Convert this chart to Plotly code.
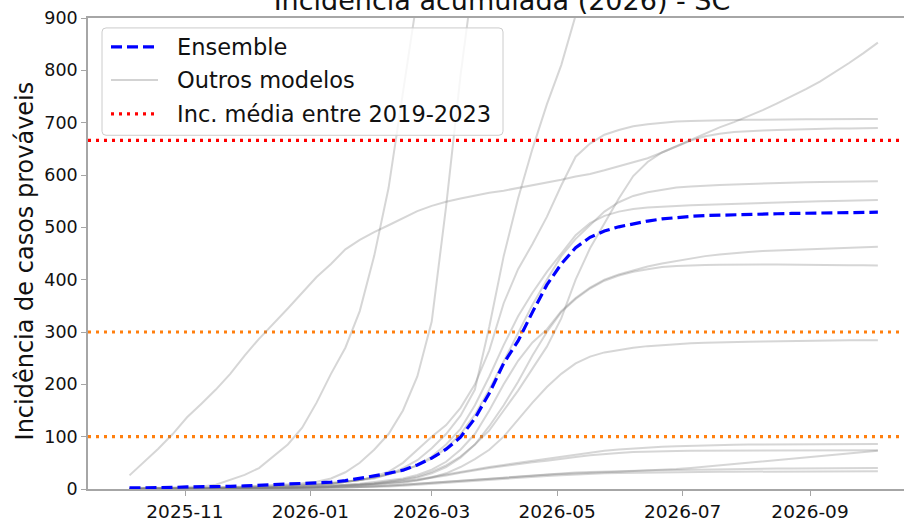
import pandas as pd
import plotly.graph_objects as go

# Epidemiological weeks (Sunday start), 2025-10-05 .. 2026-10-04
semanas = pd.date_range("2025-10-05", periods=53, freq="7D")

# Ensemble forecast of cumulative probable-case incidence
ensemble = [2, 2, 3, 3, 4, 4, 5, 5, 6, 7, 8, 9, 10,
            11, 13, 16, 20, 25, 30, 36, 46, 59, 76, 99, 135, 183,
            240, 283, 338, 390, 430, 461, 481, 493, 501, 507, 512, 516, 519,
            521, 522.5, 523.5, 524.5, 525, 525.5, 526, 526.5, 527, 527.5, 528, 528, 528.5, 529]

# Individual models
modelo_a = [26, 52, 77, 105, 137, 163, 190, 220, 255, 287, 315, 345, 375,
            405, 430, 458, 476, 491, 504, 518, 531, 541, 549, 555, 561, 566,
            570, 575, 580, 585, 591, 597, 602, 609, 617, 624, 632, 643, 655,
            666, 674, 679, 682, 684, 685, 686, 687, 688, 688, 689, 689, 690, 690]
modelo_b = [2, 2, 3, 3, 4, 5, 8, 18, 27, 40, 62, 85, 117,
            165, 220, 270, 340, 445, 575, 760, 940, 1080, 1180, 1250, 1300, 1340,
            1370, 1390, 1400, 1410, 1415, 1420, 1420, 1420, 1420, 1420, 1420, 1420, 1420,
            1420, 1420, 1420, 1420, 1420, 1420, 1420, 1420, 1420, 1420, 1420, 1420, 1420, 1420]
modelo_c = [1, 1, 2, 2, 2, 3, 3, 4, 5, 6, 7, 9, 11,
            14, 20, 32, 50, 75, 105, 150, 215, 320, 540, 790, 1000, 1150,
            1250, 1310, 1350, 1380, 1400, 1410, 1415, 1420, 1420, 1420, 1420, 1420, 1420,
            1420, 1420, 1420, 1420, 1420, 1420, 1420, 1420, 1420, 1420, 1420, 1420, 1420, 1420]
modelo_d = [1, 1, 1, 2, 2, 2, 3, 3, 4, 5, 6, 7, 8,
            10, 12, 14, 17, 20, 28, 40, 55, 78, 105, 140, 190, 310,
            445, 555, 650, 735, 810, 905, 1000, 1080, 1140, 1180, 1210, 1230, 1240,
            1250, 1255, 1260, 1260, 1260, 1260, 1260, 1260, 1260, 1260, 1260, 1260, 1260, 1260]
modelo_e = [0, 0, 1, 1, 1, 1, 2, 2, 3, 3, 4, 5, 6,
            8, 10, 13, 17, 24, 33, 50, 75, 100, 122, 155, 200, 265,
            355, 420, 468, 520, 580, 635, 660, 677, 686, 693, 697, 700, 702,
            703, 704, 704.5, 705, 705.5, 706, 706, 706, 706.5, 706.5, 707, 707, 707, 707]
modelo_f = [0, 0, 0, 1, 1, 1, 1, 2, 2, 2, 3, 3, 4,
            5, 6, 7, 9, 11, 14, 18, 24, 33, 45, 62, 85, 112,
            150, 188, 230, 272, 326, 400, 460, 508, 555, 598, 625, 643, 655,
            667, 680, 691, 701, 712, 724, 737, 750, 764, 779, 796, 814, 833, 853]
modelo_g = [0, 0, 1, 1, 1, 1, 2, 2, 3, 3, 4, 5, 6,
            8, 10, 13, 17, 22, 28, 36, 45, 58, 78, 105, 142, 190,
            245, 300, 352, 400, 445, 478, 505, 530, 548, 560, 567, 572, 576,
            578, 580, 581, 582, 583, 584, 585, 585.5, 586, 586.5, 587, 587, 587.5, 588]
modelo_h = [0, 0, 1, 1, 1, 1, 2, 2, 3, 3, 4, 5, 6,
            8, 10, 13, 17, 22, 28, 35, 45, 62, 85, 115, 160, 215,
            275, 330, 375, 415, 450, 485, 508, 522, 530, 535, 538, 540, 541,
            542, 543, 543.5, 544, 545, 546, 547, 548, 549, 550, 550.5, 551, 551.5, 552]
modelo_i = [0, 0, 0, 1, 1, 1, 1, 2, 2, 2, 3, 3, 4,
            5, 6, 8, 10, 13, 16, 20, 27, 37, 52, 75, 105, 150,
            200, 245, 280, 305, 340, 365, 385, 400, 410, 418, 425, 431, 436,
            441, 445, 448, 451, 453, 455, 456, 457.5, 459, 460, 461, 462, 462.5, 463]
modelo_j = [0, 0, 0, 0, 1, 1, 1, 1, 2, 2, 2, 3, 3,
            4, 5, 6, 8, 10, 13, 17, 22, 30, 42, 60, 85, 120,
            160, 205, 255, 300, 338, 363, 383, 398, 408, 415, 420, 424, 426,
            427.5, 428, 428.5, 429, 429, 429, 429, 428.5, 428.5, 428, 428, 427.5, 427.5, 427]
modelo_k = [0, 0, 0, 0, 1, 1, 1, 1, 1, 2, 2, 2, 3,
            3, 4, 5, 6, 8, 10, 12, 16, 22, 30, 42, 57, 75,
            100, 133, 165, 195, 220, 240, 253, 261, 266, 270, 273, 275, 277,
            278.5, 279.5, 280.5, 281, 281.5, 282, 282.5, 283, 283, 283.5, 283.5, 284, 284, 284]
modelo_l = [0, 0, 0, 0, 1, 1, 1, 1, 1, 2, 2, 2, 3,
            4, 5, 6, 8, 10, 12, 15, 18, 23, 28, 33, 38, 42,
            46, 50, 54, 58, 62, 66, 70, 73, 75.5, 77.5, 79, 80.5, 81.5,
            82.5, 83.5, 84, 84.5, 85, 85, 85.5, 85.5, 86, 86, 86, 86, 86, 86]
modelo_m = [0, 0, 0, 0, 0, 1, 1, 1, 1, 1, 2, 2, 3,
            3, 4, 5, 7, 9, 11, 14, 17, 21, 26, 31, 36, 40,
            44, 48, 51, 54, 57, 61, 64.5, 67, 69, 70.5, 71.5, 72, 72.5,
            73, 73, 73, 73, 73.5, 73.5, 73.5, 73.5, 73.5, 74, 74, 74, 74, 74]
modelo_n = [0, 0, 0, 0, 0, 0, 1, 1, 1, 1, 1, 2, 2,
            2, 3, 3, 4, 5, 6, 8, 10, 12, 14, 16, 18, 20,
            22, 24, 25.5, 27, 28.5, 30, 31, 32, 33, 34, 35, 36.5, 38,
            40, 42.5, 45, 47.5, 50, 52.5, 55, 57.5, 60, 62.5, 65, 67.5, 70, 73]
modelo_o = [0, 0, 0, 0, 0, 1, 1, 1, 1, 1, 2, 2, 2,
            3, 3, 4, 4, 5, 6, 8, 10, 12, 14, 16, 18, 20,
            22.5, 24.5, 26.5, 28.5, 30, 31.5, 32.5, 33.5, 34.5, 35, 35.5, 36, 36.5,
            37, 37.5, 38, 38, 38.5, 38.5, 39, 39, 39, 39.5, 39.5, 40, 40, 40]
modelo_p = [0, 0, 0, 0, 0, 0, 1, 1, 1, 1, 1, 2, 2,
            2, 3, 3, 4, 4, 5, 6, 8, 9.5, 11, 13, 15, 17,
            19, 21, 23, 25, 26.5, 28, 29, 30, 30.5, 31, 31.5, 32, 32,
            32.5, 32.5, 33, 33, 33, 33, 33.5, 33.5, 33.5, 34, 34, 34, 34, 34]

outros_modelos = [modelo_a, modelo_b, modelo_c, modelo_d, modelo_e, modelo_f,
                  modelo_g, modelo_h, modelo_i, modelo_j, modelo_k, modelo_l,
                  modelo_m, modelo_n, modelo_o, modelo_p]

# Reference levels
inc_media_2019_2023 = 666
limiares = [100, 300]

# Axis ticks
meses_ticks = ["2025-11-01", "2026-01-01", "2026-03-01", "2026-05-01", "2026-07-01", "2026-09-01"]
meses_rotulos = ["2025-11", "2026-01", "2026-03", "2026-05", "2026-07", "2026-09"]
y_ticks = [0, 100, 200, 300, 400, 500, 600, 700, 800, 900]

FONT = "DejaVu Sans"
W, H = 904, 522
L, R, T, B = 88, 0, 18, 30
PW, PH = W - L - R, H - T - B
SPINE = "#a6a6a6"
GRAY_LINE = "rgba(128,128,128,0.32)"


def px(xp):
    return (xp - L) / PW


def py(yp):
    return (H - B - yp) / PH


fig = go.Figure()

for serie in outros_modelos:
    fig.add_trace(go.Scatter(x=semanas, y=serie, mode="lines",
                             line=dict(color=GRAY_LINE, width=2),
                             showlegend=False, hoverinfo="skip"))

fig.add_trace(go.Scatter(x=semanas, y=ensemble, mode="lines",
                         line=dict(color="#0000ff", width=3.2, dash="11px,5px"),
                         showlegend=False, name="Ensemble"))

for nivel in limiares:
    fig.add_hline(y=nivel, line=dict(color="#ff7f0e", width=3.2, dash="3px,5px"), layer="below")
fig.add_hline(y=inc_media_2019_2023, line=dict(color="#ff0000", width=3.2, dash="3px,5px"), layer="below")

# Legend box
x0, x1, y0, y1, r = 102, 503, 28, 136, 4
rx, ry = r / PW, r / PH
box = (f"M {px(x0)+rx},{py(y0)} L {px(x1)-rx},{py(y0)} Q {px(x1)},{py(y0)} {px(x1)},{py(y0)-ry} "
       f"L {px(x1)},{py(y1)+ry} Q {px(x1)},{py(y1)} {px(x1)-rx},{py(y1)} "
       f"L {px(x0)+rx},{py(y1)} Q {px(x0)},{py(y1)} {px(x0)},{py(y1)+ry} "
       f"L {px(x0)},{py(y0)-ry} Q {px(x0)},{py(y0)} {px(x0)+rx},{py(y0)} Z")
fig.add_shape(type="path", path=box, xref="paper", yref="paper",
              fillcolor="rgba(255,255,255,0.8)", line=dict(color="#cccccc", width=1), layer="above")

legenda = [
    ("Ensemble", dict(color="#0000ff", width=3.2, dash="11px,5px"), 47),
    ("Outros modelos", dict(color="rgba(128,128,128,0.35)", width=2), 80.5),
    ("Inc. média entre 2019-2023", dict(color="#ff0000", width=3.2, dash="3px,5px"), 114.5),
]
for texto, estilo, yc in legenda:
    fig.add_shape(type="line", xref="paper", yref="paper", x0=px(111), x1=px(158),
                  y0=py(yc), y1=py(yc), line=estilo, layer="above")
    fig.add_annotation(text=texto, xref="paper", yref="paper", x=px(175), y=py(yc),
                       xanchor="left", yanchor="middle", showarrow=False,
                       font=dict(family=FONT, size=22.5, color="#111111"))

# Y axis label
fig.add_annotation(text="Incidência de casos prováveis", xref="paper", yref="paper",
                   x=px(25), y=py(263), textangle=-90, showarrow=False,
                   xanchor="center", yanchor="middle",
                   font=dict(family=FONT, size=24, color="#111111"))

fig.update_layout(
    width=W, height=H,
    margin=dict(l=L, r=R, t=T, b=B, pad=0),
    paper_bgcolor="white", plot_bgcolor="white",
    showlegend=False,
    font=dict(family=FONT, color="#111111"),
    title=dict(text="Incidência acumulada (2026) - SC", font=dict(family=FONT, size=27, color="#111111"),
               xref="paper", x=px(502), xanchor="center",
               yref="container", y=1 - 10 / H, yanchor="bottom"),
    xaxis=dict(type="date", range=["2025-09-14 19:40", "2026-10-16 17:00"],
               tickvals=meses_ticks, ticktext=meses_rotulos,
               showgrid=False, zeroline=False,
               showline=True, linecolor=SPINE, linewidth=1.6, mirror=True,
               ticks="outside", ticklen=5, tickwidth=1.4, tickcolor=SPINE,
               tickfont=dict(family=FONT, size=18.5, color="#111111")),
    yaxis=dict(range=[0, 900], tickvals=y_ticks,
               showgrid=False, zeroline=False,
               showline=True, linecolor=SPINE, linewidth=1.6, mirror=False,
               ticks="outside", ticklen=5, tickwidth=1.4, tickcolor=SPINE,
               tickfont=dict(family=FONT, size=17.5, color="#111111")),
)

fig.write_html("out.html")
